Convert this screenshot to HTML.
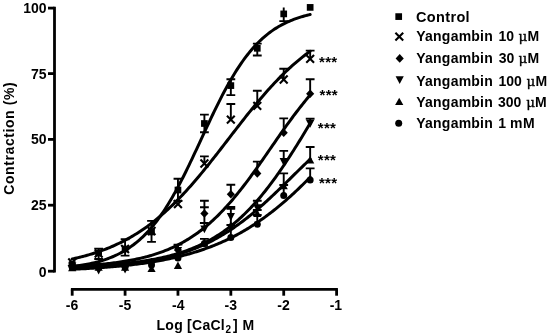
<!DOCTYPE html>
<html><head><meta charset="utf-8"><style>
html,body{margin:0;padding:0;background:#fff;}
body{width:550px;height:336px;overflow:hidden;}
svg{display:block;}
text{font-family:"Liberation Sans",Arial,sans-serif;font-weight:bold;font-size:14px;fill:#000;}
.st{font-size:15px;letter-spacing:0.3px;}
.mu{font-family:"DejaVu Serif",serif;font-weight:normal;font-size:13.5px;stroke:#000;stroke-width:0.35px;}
</style></head><body>
<svg width="550" height="336" viewBox="0 0 550 336">
<g fill="none" stroke="#000" stroke-width="2.8" stroke-linecap="butt"><path d="M54.5,6.8 L54.5,272.6"/><path d="M48.0,8.1 L54.5,8.1"/><path d="M48.0,73.6 L54.5,73.6"/><path d="M48.0,139.4 L54.5,139.4"/><path d="M48.0,205.2 L54.5,205.2"/><path d="M48.0,271.2 L54.5,271.2"/><path d="M70.9,289.4 L337.9,289.4"/><path d="M72.20,289.4 L72.20,295.7"/><path d="M125.08,289.4 L125.08,295.7"/><path d="M177.96,289.4 L177.96,295.7"/><path d="M230.84,289.4 L230.84,295.7"/><path d="M283.72,289.4 L283.72,295.7"/><path d="M336.60,289.4 L336.60,295.7"/></g>
<g><text x="46.6" y="12.7" text-anchor="end">100</text><text x="46.6" y="78.8" text-anchor="end">75</text><text x="46.6" y="144.4" text-anchor="end">50</text><text x="46.6" y="210.4" text-anchor="end">25</text><text x="46.6" y="276.5" text-anchor="end">0</text><text x="72.05" y="310.3" text-anchor="middle">-6</text><text x="124.95" y="310.3" text-anchor="middle">-5</text><text x="178.30" y="310.3" text-anchor="middle">-4</text><text x="230.85" y="310.3" text-anchor="middle">-3</text><text x="283.50" y="310.3" text-anchor="middle">-2</text><text x="335.90" y="310.3" text-anchor="middle">-1</text></g>
<text transform="translate(14.1,194.7) rotate(-90)" style="letter-spacing:0.58px">Contraction (%)</text>
<text x="156.5" y="330" style="letter-spacing:0.27px">Log [CaCl</text><text x="225.6" y="333.2" style="font-size:10px">2</text><text x="233" y="330">]</text><text x="242.4" y="330">M</text>
<g fill="none" stroke="#000" stroke-width="1.9" stroke-linecap="butt"><path d="M98.64,248.60 L98.64,253.00 M94.24,248.60 L103.04,248.60 M98.64,253.00 L98.64,259.00 M94.24,259.00 L103.04,259.00 M125.08,239.30 L125.08,249.00 M120.68,239.30 L129.48,239.30 M125.08,249.00 L125.08,255.60 M120.68,255.60 L129.48,255.60 M151.52,220.90 L151.52,232.00 M147.12,220.90 L155.92,220.90 M151.52,232.00 L151.52,241.90 M147.12,241.90 L155.92,241.90 M177.96,178.80 L177.96,190.00 M173.56,178.80 L182.36,178.80 M177.96,190.00 L177.96,201.00 M173.56,201.00 L182.36,201.00 M204.40,114.60 L204.40,123.50 M200.00,114.60 L208.80,114.60 M204.40,123.50 L204.40,132.30 M200.00,132.30 L208.80,132.30 M230.84,79.20 L230.84,85.60 M226.44,79.20 L235.24,79.20 M230.84,85.60 L230.84,95.10 M226.44,95.10 L235.24,95.10 M257.28,43.60 L257.28,48.30 M252.88,43.60 L261.68,43.60 M257.28,48.30 L257.28,55.50 M252.88,55.50 L261.68,55.50 M283.72,7.40 L283.72,13.90 M283.72,13.90 L283.72,21.10 M279.32,21.10 L288.12,21.10 M204.40,156.40 L204.40,163.50 M200.00,156.40 L208.80,156.40 M230.84,104.00 L230.84,119.60 M226.44,104.00 L235.24,104.00 M257.28,90.80 L257.28,105.80 M252.88,90.80 L261.68,90.80 M283.72,68.70 L283.72,79.50 M279.32,68.70 L288.12,68.70 M310.16,50.60 L310.16,58.80 M305.76,50.60 L314.56,50.60 M204.40,200.70 L204.40,213.50 M200.00,200.70 L208.80,200.70 M230.84,184.80 L230.84,194.30 M226.44,184.80 L235.24,184.80 M257.28,161.60 L257.28,173.40 M252.88,161.60 L261.68,161.60 M283.72,118.40 L283.72,132.70 M279.32,118.40 L288.12,118.40 M310.16,79.30 L310.16,93.70 M305.76,79.30 L314.56,79.30 M177.96,244.60 L177.96,251.00 M173.56,244.60 L182.36,244.60 M204.40,207.30 L204.40,229.40 M200.00,207.30 L208.80,207.30 M230.84,207.00 L230.84,217.00 M226.44,207.00 L235.24,207.00 M257.28,200.80 L257.28,208.20 M252.88,200.80 L261.68,200.80 M283.72,150.90 L283.72,162.00 M279.32,150.90 L288.12,150.90 M310.16,118.70 L310.16,123.80 M305.76,118.70 L314.56,118.70 M204.40,238.90 L204.40,243.00 M200.00,238.90 L208.80,238.90 M230.84,208.00 L230.84,225.00 M226.44,208.00 L235.24,208.00 M257.28,210.00 L257.28,213.20 M252.88,210.00 L261.68,210.00 M283.72,173.40 L283.72,185.50 M279.32,173.40 L288.12,173.40 M310.16,147.00 L310.16,159.80 M305.76,147.00 L314.56,147.00 M230.84,225.00 L230.84,237.60 M226.44,225.00 L235.24,225.00 M257.28,215.00 L257.28,224.20 M252.88,215.00 L261.68,215.00 M283.72,185.00 L283.72,195.40 M279.32,185.00 L288.12,185.00 M310.16,168.40 L310.16,180.00 M305.76,168.40 L314.56,168.40 M199.90,223.00 L208.70,223.00 M226.40,208.90 L235.20,208.90"/></g>
<g fill="none" stroke="#000" stroke-width="3" stroke-linecap="round"><path d="M72.20,266.52 L73.70,266.34 L75.19,266.15 L76.69,265.94 L78.19,265.73 L79.68,265.51 L81.18,265.27 L82.68,265.03 L84.17,264.77 L85.67,264.50 L87.17,264.22 L88.66,263.92 L90.16,263.61 L91.66,263.29 L93.15,262.95 L94.65,262.59 L96.15,262.22 L97.64,261.83 L99.14,261.42 L100.64,260.99 L102.13,260.54 L103.63,260.07 L105.13,259.58 L106.62,259.06 L108.12,258.53 L109.62,257.96 L111.11,257.37 L112.61,256.76 L114.10,256.12 L115.60,255.44 L117.10,254.74 L118.59,254.01 L120.09,253.24 L121.59,252.45 L123.08,251.61 L124.58,250.74 L126.08,249.84 L127.57,248.89 L129.07,247.91 L130.57,246.88 L132.06,245.81 L133.56,244.70 L135.06,243.54 L136.55,242.34 L138.05,241.09 L139.55,239.79 L141.04,238.44 L142.54,237.04 L144.04,235.59 L145.53,234.08 L147.03,232.52 L148.53,230.90 L150.02,229.23 L151.52,227.50 L153.02,225.71 L154.51,223.86 L156.01,221.95 L157.51,219.98 L159.00,217.95 L160.50,215.86 L162.00,213.71 L163.49,211.49 L164.99,209.22 L166.49,206.89 L167.98,204.49 L169.48,202.04 L170.98,199.52 L172.47,196.95 L173.97,194.32 L175.47,191.64 L176.96,188.90 L178.46,186.11 L179.96,183.28 L181.45,180.39 L182.95,177.46 L184.45,174.48 L185.94,171.47 L187.44,168.42 L188.94,165.33 L190.43,162.22 L191.93,159.08 L193.42,155.91 L194.92,152.72 L196.42,149.52 L197.91,146.30 L199.41,143.07 L200.91,139.84 L202.40,136.61 L203.90,133.38 L205.40,130.16 L206.89,126.94 L208.39,123.75 L209.89,120.57 L211.38,117.41 L212.88,114.27 L214.38,111.17 L215.87,108.09 L217.37,105.06 L218.87,102.06 L220.36,99.10 L221.86,96.18 L223.36,93.31 L224.85,90.49 L226.35,87.72 L227.85,85.00 L229.34,82.34 L230.84,79.73 L232.34,77.18 L233.83,74.69 L235.33,72.26 L236.83,69.88 L238.32,67.57 L239.82,65.32 L241.32,63.12 L242.81,60.99 L244.31,58.93 L245.81,56.92 L247.30,54.97 L248.80,53.08 L250.30,51.25 L251.79,49.49 L253.29,47.78 L254.79,46.12 L256.28,44.52 L257.78,42.98 L259.28,41.50 L260.77,40.06 L262.27,38.68 L263.77,37.35 L265.26,36.07 L266.76,34.83 L268.26,33.65 L269.75,32.51 L271.25,31.41 L272.74,30.36 L274.24,29.35 L275.74,28.38 L277.23,27.44 L278.73,26.55 L280.23,25.70 L281.72,24.87 L283.22,24.09 L284.72,23.33 L286.21,22.61 L287.71,21.92 L289.21,21.26 L290.70,20.63 L292.20,20.02 L293.70,19.44 L295.19,18.89 L296.69,18.36 L298.19,17.85 L299.68,17.37 L301.18,16.91 L302.68,16.47 L304.17,16.04 L305.67,15.64 L307.17,15.26 L308.66,14.89 L310.16,14.54"/><path d="M72.20,258.99 L73.70,258.67 L75.19,258.33 L76.69,257.98 L78.19,257.62 L79.68,257.26 L81.18,256.88 L82.68,256.49 L84.17,256.10 L85.67,255.69 L87.17,255.27 L88.66,254.84 L90.16,254.40 L91.66,253.95 L93.15,253.48 L94.65,253.01 L96.15,252.52 L97.64,252.02 L99.14,251.50 L100.64,250.98 L102.13,250.44 L103.63,249.88 L105.13,249.31 L106.62,248.73 L108.12,248.13 L109.62,247.52 L111.11,246.89 L112.61,246.25 L114.10,245.59 L115.60,244.92 L117.10,244.23 L118.59,243.52 L120.09,242.80 L121.59,242.06 L123.08,241.30 L124.58,240.52 L126.08,239.73 L127.57,238.92 L129.07,238.09 L130.57,237.24 L132.06,236.37 L133.56,235.48 L135.06,234.58 L136.55,233.65 L138.05,232.70 L139.55,231.74 L141.04,230.75 L142.54,229.74 L144.04,228.71 L145.53,227.67 L147.03,226.60 L148.53,225.50 L150.02,224.39 L151.52,223.26 L153.02,222.10 L154.51,220.92 L156.01,219.72 L157.51,218.50 L159.00,217.26 L160.50,215.99 L162.00,214.70 L163.49,213.39 L164.99,212.06 L166.49,210.71 L167.98,209.33 L169.48,207.93 L170.98,206.51 L172.47,205.07 L173.97,203.61 L175.47,202.12 L176.96,200.62 L178.46,199.09 L179.96,197.54 L181.45,195.97 L182.95,194.39 L184.45,192.78 L185.94,191.15 L187.44,189.50 L188.94,187.84 L190.43,186.15 L191.93,184.45 L193.42,182.73 L194.92,181.00 L196.42,179.24 L197.91,177.47 L199.41,175.69 L200.91,173.89 L202.40,172.08 L203.90,170.25 L205.40,168.41 L206.89,166.56 L208.39,164.70 L209.89,162.82 L211.38,160.94 L212.88,159.05 L214.38,157.14 L215.87,155.23 L217.37,153.32 L218.87,151.39 L220.36,149.47 L221.86,147.53 L223.36,145.60 L224.85,143.66 L226.35,141.72 L227.85,139.78 L229.34,137.83 L230.84,135.89 L232.34,133.95 L233.83,132.01 L235.33,130.08 L236.83,128.15 L238.32,126.22 L239.82,124.30 L241.32,122.38 L242.81,120.48 L244.31,118.58 L245.81,116.68 L247.30,114.80 L248.80,112.93 L250.30,111.07 L251.79,109.22 L253.29,107.39 L254.79,105.56 L256.28,103.75 L257.78,101.96 L259.28,100.18 L260.77,98.41 L262.27,96.67 L263.77,94.93 L265.26,93.22 L266.76,91.52 L268.26,89.84 L269.75,88.18 L271.25,86.54 L272.74,84.92 L274.24,83.31 L275.74,81.73 L277.23,80.17 L278.73,78.62 L280.23,77.10 L281.72,75.60 L283.22,74.12 L284.72,72.67 L286.21,71.23 L287.71,69.82 L289.21,68.42 L290.70,67.05 L292.20,65.70 L293.70,64.38 L295.19,63.07 L296.69,61.79 L298.19,60.53 L299.68,59.29 L301.18,58.08 L302.68,56.88 L304.17,55.71 L305.67,54.56 L307.17,53.43 L308.66,52.32 L310.16,51.24"/><path d="M72.20,266.29 L73.70,266.21 L75.19,266.14 L76.69,266.06 L78.19,265.98 L79.68,265.89 L81.18,265.80 L82.68,265.71 L84.17,265.62 L85.67,265.52 L87.17,265.42 L88.66,265.32 L90.16,265.21 L91.66,265.10 L93.15,264.98 L94.65,264.86 L96.15,264.73 L97.64,264.61 L99.14,264.47 L100.64,264.33 L102.13,264.19 L103.63,264.04 L105.13,263.89 L106.62,263.73 L108.12,263.57 L109.62,263.39 L111.11,263.22 L112.61,263.04 L114.10,262.85 L115.60,262.65 L117.10,262.45 L118.59,262.24 L120.09,262.02 L121.59,261.80 L123.08,261.57 L124.58,261.33 L126.08,261.08 L127.57,260.83 L129.07,260.56 L130.57,260.29 L132.06,260.00 L133.56,259.71 L135.06,259.41 L136.55,259.09 L138.05,258.77 L139.55,258.43 L141.04,258.09 L142.54,257.73 L144.04,257.36 L145.53,256.98 L147.03,256.58 L148.53,256.18 L150.02,255.76 L151.52,255.32 L153.02,254.87 L154.51,254.41 L156.01,253.93 L157.51,253.44 L159.00,252.93 L160.50,252.40 L162.00,251.86 L163.49,251.30 L164.99,250.72 L166.49,250.13 L167.98,249.52 L169.48,248.88 L170.98,248.23 L172.47,247.56 L173.97,246.87 L175.47,246.16 L176.96,245.42 L178.46,244.67 L179.96,243.89 L181.45,243.09 L182.95,242.27 L184.45,241.42 L185.94,240.55 L187.44,239.66 L188.94,238.74 L190.43,237.79 L191.93,236.82 L193.42,235.83 L194.92,234.80 L196.42,233.75 L197.91,232.68 L199.41,231.57 L200.91,230.44 L202.40,229.28 L203.90,228.09 L205.40,226.87 L206.89,225.62 L208.39,224.35 L209.89,223.04 L211.38,221.71 L212.88,220.34 L214.38,218.95 L215.87,217.52 L217.37,216.07 L218.87,214.58 L220.36,213.07 L221.86,211.53 L223.36,209.95 L224.85,208.35 L226.35,206.72 L227.85,205.06 L229.34,203.37 L230.84,201.65 L232.34,199.90 L233.83,198.13 L235.33,196.33 L236.83,194.51 L238.32,192.66 L239.82,190.78 L241.32,188.88 L242.81,186.96 L244.31,185.01 L245.81,183.04 L247.30,181.06 L248.80,179.05 L250.30,177.02 L251.79,174.98 L253.29,172.92 L254.79,170.84 L256.28,168.75 L257.78,166.65 L259.28,164.53 L260.77,162.41 L262.27,160.27 L263.77,158.13 L265.26,155.98 L266.76,153.83 L268.26,151.67 L269.75,149.51 L271.25,147.35 L272.74,145.19 L274.24,143.03 L275.74,140.87 L277.23,138.72 L278.73,136.57 L280.23,134.44 L281.72,132.31 L283.22,130.19 L284.72,128.08 L286.21,125.98 L287.71,123.90 L289.21,121.83 L290.70,119.78 L292.20,117.75 L293.70,115.73 L295.19,113.74 L296.69,111.76 L298.19,109.81 L299.68,107.87 L301.18,105.96 L302.68,104.08 L304.17,102.22 L305.67,100.38 L307.17,98.57 L308.66,96.79 L310.16,95.03"/><path d="M72.20,266.63 L73.70,266.58 L75.19,266.53 L76.69,266.47 L78.19,266.42 L79.68,266.36 L81.18,266.30 L82.68,266.24 L84.17,266.18 L85.67,266.11 L87.17,266.04 L88.66,265.97 L90.16,265.90 L91.66,265.83 L93.15,265.75 L94.65,265.67 L96.15,265.59 L97.64,265.50 L99.14,265.42 L100.64,265.33 L102.13,265.23 L103.63,265.14 L105.13,265.04 L106.62,264.93 L108.12,264.83 L109.62,264.72 L111.11,264.61 L112.61,264.49 L114.10,264.37 L115.60,264.25 L117.10,264.12 L118.59,263.99 L120.09,263.85 L121.59,263.71 L123.08,263.56 L124.58,263.41 L126.08,263.26 L127.57,263.10 L129.07,262.93 L130.57,262.76 L132.06,262.59 L133.56,262.41 L135.06,262.22 L136.55,262.03 L138.05,261.83 L139.55,261.62 L141.04,261.41 L142.54,261.19 L144.04,260.97 L145.53,260.73 L147.03,260.49 L148.53,260.25 L150.02,259.99 L151.52,259.73 L153.02,259.46 L154.51,259.18 L156.01,258.89 L157.51,258.59 L159.00,258.28 L160.50,257.97 L162.00,257.64 L163.49,257.30 L164.99,256.96 L166.49,256.60 L167.98,256.23 L169.48,255.85 L170.98,255.46 L172.47,255.06 L173.97,254.65 L175.47,254.22 L176.96,253.78 L178.46,253.32 L179.96,252.86 L181.45,252.38 L182.95,251.88 L184.45,251.37 L185.94,250.85 L187.44,250.31 L188.94,249.75 L190.43,249.18 L191.93,248.59 L193.42,247.99 L194.92,247.36 L196.42,246.72 L197.91,246.06 L199.41,245.39 L200.91,244.69 L202.40,243.97 L203.90,243.24 L205.40,242.48 L206.89,241.70 L208.39,240.90 L209.89,240.08 L211.38,239.24 L212.88,238.38 L214.38,237.49 L215.87,236.58 L217.37,235.64 L218.87,234.68 L220.36,233.70 L221.86,232.69 L223.36,231.66 L224.85,230.59 L226.35,229.51 L227.85,228.39 L229.34,227.25 L230.84,226.08 L232.34,224.89 L233.83,223.66 L235.33,222.41 L236.83,221.12 L238.32,219.81 L239.82,218.47 L241.32,217.10 L242.81,215.70 L244.31,214.26 L245.81,212.80 L247.30,211.31 L248.80,209.78 L250.30,208.23 L251.79,206.64 L253.29,205.02 L254.79,203.37 L256.28,201.69 L257.78,199.98 L259.28,198.23 L260.77,196.46 L262.27,194.65 L263.77,192.82 L265.26,190.95 L266.76,189.05 L268.26,187.12 L269.75,185.16 L271.25,183.18 L272.74,181.16 L274.24,179.11 L275.74,177.04 L277.23,174.94 L278.73,172.81 L280.23,170.66 L281.72,168.48 L283.22,166.27 L284.72,164.04 L286.21,161.79 L287.71,159.51 L289.21,157.21 L290.70,154.90 L292.20,152.56 L293.70,150.20 L295.19,147.82 L296.69,145.43 L298.19,143.02 L299.68,140.60 L301.18,138.17 L302.68,135.72 L304.17,133.26 L305.67,130.79 L307.17,128.31 L308.66,125.83 L310.16,123.34"/><path d="M72.20,267.89 L73.70,267.84 L75.19,267.78 L76.69,267.72 L78.19,267.66 L79.68,267.59 L81.18,267.53 L82.68,267.46 L84.17,267.39 L85.67,267.32 L87.17,267.24 L88.66,267.17 L90.16,267.09 L91.66,267.01 L93.15,266.92 L94.65,266.83 L96.15,266.75 L97.64,266.65 L99.14,266.56 L100.64,266.46 L102.13,266.36 L103.63,266.25 L105.13,266.15 L106.62,266.04 L108.12,265.92 L109.62,265.80 L111.11,265.68 L112.61,265.56 L114.10,265.43 L115.60,265.30 L117.10,265.16 L118.59,265.02 L120.09,264.87 L121.59,264.72 L123.08,264.57 L124.58,264.41 L126.08,264.25 L127.57,264.08 L129.07,263.90 L130.57,263.72 L132.06,263.54 L133.56,263.35 L135.06,263.15 L136.55,262.95 L138.05,262.74 L139.55,262.53 L141.04,262.31 L142.54,262.09 L144.04,261.85 L145.53,261.61 L147.03,261.37 L148.53,261.11 L150.02,260.85 L151.52,260.58 L153.02,260.30 L154.51,260.02 L156.01,259.73 L157.51,259.42 L159.00,259.11 L160.50,258.80 L162.00,258.47 L163.49,258.13 L164.99,257.78 L166.49,257.43 L167.98,257.06 L169.48,256.69 L170.98,256.30 L172.47,255.90 L173.97,255.49 L175.47,255.08 L176.96,254.64 L178.46,254.20 L179.96,253.75 L181.45,253.28 L182.95,252.81 L184.45,252.32 L185.94,251.81 L187.44,251.30 L188.94,250.77 L190.43,250.22 L191.93,249.67 L193.42,249.10 L194.92,248.51 L196.42,247.91 L197.91,247.30 L199.41,246.67 L200.91,246.02 L202.40,245.36 L203.90,244.69 L205.40,244.00 L206.89,243.29 L208.39,242.57 L209.89,241.83 L211.38,241.07 L212.88,240.30 L214.38,239.51 L215.87,238.71 L217.37,237.88 L218.87,237.04 L220.36,236.18 L221.86,235.31 L223.36,234.41 L224.85,233.50 L226.35,232.57 L227.85,231.63 L229.34,230.66 L230.84,229.68 L232.34,228.68 L233.83,227.66 L235.33,226.62 L236.83,225.57 L238.32,224.50 L239.82,223.41 L241.32,222.30 L242.81,221.18 L244.31,220.04 L245.81,218.88 L247.30,217.70 L248.80,216.51 L250.30,215.31 L251.79,214.08 L253.29,212.84 L254.79,211.59 L256.28,210.32 L257.78,209.03 L259.28,207.74 L260.77,206.42 L262.27,205.10 L263.77,203.76 L265.26,202.41 L266.76,201.05 L268.26,199.67 L269.75,198.29 L271.25,196.89 L272.74,195.49 L274.24,194.07 L275.74,192.65 L277.23,191.22 L278.73,189.78 L280.23,188.34 L281.72,186.89 L283.22,185.43 L284.72,183.97 L286.21,182.51 L287.71,181.04 L289.21,179.57 L290.70,178.10 L292.20,176.63 L293.70,175.16 L295.19,173.69 L296.69,172.22 L298.19,170.75 L299.68,169.29 L301.18,167.83 L302.68,166.37 L304.17,164.92 L305.67,163.48 L307.17,162.04 L308.66,160.61 L310.16,159.18"/><path d="M72.20,269.31 L73.70,269.24 L75.19,269.17 L76.69,269.10 L78.19,269.03 L79.68,268.95 L81.18,268.87 L82.68,268.79 L84.17,268.71 L85.67,268.63 L87.17,268.55 L88.66,268.46 L90.16,268.37 L91.66,268.28 L93.15,268.18 L94.65,268.09 L96.15,267.99 L97.64,267.89 L99.14,267.78 L100.64,267.68 L102.13,267.57 L103.63,267.46 L105.13,267.35 L106.62,267.23 L108.12,267.11 L109.62,266.99 L111.11,266.86 L112.61,266.73 L114.10,266.60 L115.60,266.47 L117.10,266.33 L118.59,266.19 L120.09,266.04 L121.59,265.89 L123.08,265.74 L124.58,265.58 L126.08,265.43 L127.57,265.26 L129.07,265.09 L130.57,264.92 L132.06,264.75 L133.56,264.57 L135.06,264.38 L136.55,264.20 L138.05,264.00 L139.55,263.81 L141.04,263.60 L142.54,263.40 L144.04,263.18 L145.53,262.97 L147.03,262.75 L148.53,262.52 L150.02,262.29 L151.52,262.05 L153.02,261.80 L154.51,261.56 L156.01,261.30 L157.51,261.04 L159.00,260.77 L160.50,260.50 L162.00,260.22 L163.49,259.93 L164.99,259.64 L166.49,259.34 L167.98,259.03 L169.48,258.72 L170.98,258.40 L172.47,258.07 L173.97,257.74 L175.47,257.40 L176.96,257.04 L178.46,256.69 L179.96,256.32 L181.45,255.95 L182.95,255.56 L184.45,255.17 L185.94,254.77 L187.44,254.36 L188.94,253.94 L190.43,253.52 L191.93,253.08 L193.42,252.64 L194.92,252.18 L196.42,251.71 L197.91,251.24 L199.41,250.75 L200.91,250.26 L202.40,249.75 L203.90,249.24 L205.40,248.71 L206.89,248.17 L208.39,247.62 L209.89,247.06 L211.38,246.49 L212.88,245.90 L214.38,245.31 L215.87,244.70 L217.37,244.08 L218.87,243.44 L220.36,242.80 L221.86,242.14 L223.36,241.47 L224.85,240.79 L226.35,240.09 L227.85,239.38 L229.34,238.65 L230.84,237.92 L232.34,237.17 L233.83,236.40 L235.33,235.62 L236.83,234.83 L238.32,234.02 L239.82,233.20 L241.32,232.36 L242.81,231.51 L244.31,230.64 L245.81,229.76 L247.30,228.86 L248.80,227.95 L250.30,227.02 L251.79,226.07 L253.29,225.12 L254.79,224.14 L256.28,223.15 L257.78,222.14 L259.28,221.12 L260.77,220.09 L262.27,219.03 L263.77,217.96 L265.26,216.88 L266.76,215.78 L268.26,214.66 L269.75,213.53 L271.25,212.38 L272.74,211.21 L274.24,210.03 L275.74,208.84 L277.23,207.62 L278.73,206.40 L280.23,205.15 L281.72,203.90 L283.22,202.62 L284.72,201.33 L286.21,200.03 L287.71,198.71 L289.21,197.38 L290.70,196.03 L292.20,194.67 L293.70,193.29 L295.19,191.90 L296.69,190.49 L298.19,189.08 L299.68,187.65 L301.18,186.20 L302.68,184.75 L304.17,183.28 L305.67,181.80 L307.17,180.31 L308.66,178.80 L310.16,177.29"/></g>
<g fill="#000"><rect x="68.85" y="261.15" width="6.70" height="6.70"/><rect x="95.29" y="249.65" width="6.70" height="6.70"/><rect x="121.73" y="245.65" width="6.70" height="6.70"/><rect x="148.17" y="228.65" width="6.70" height="6.70"/><rect x="174.61" y="186.65" width="6.70" height="6.70"/><rect x="201.05" y="120.15" width="6.70" height="6.70"/><rect x="227.49" y="82.25" width="6.70" height="6.70"/><rect x="253.93" y="44.95" width="6.70" height="6.70"/><rect x="280.37" y="10.55" width="6.70" height="6.70"/><rect x="306.81" y="4.05" width="6.70" height="6.70"/><path d="M68.30,258.60 L76.10,266.40 M76.10,258.60 L68.30,266.40" fill="none" stroke="#000" stroke-width="2.1"/><path d="M94.74,249.60 L102.54,257.40 M102.54,249.60 L94.74,257.40" fill="none" stroke="#000" stroke-width="2.1"/><path d="M121.18,245.10 L128.98,252.90 M128.98,245.10 L121.18,252.90" fill="none" stroke="#000" stroke-width="2.1"/><path d="M147.62,227.10 L155.42,234.90 M155.42,227.10 L147.62,234.90" fill="none" stroke="#000" stroke-width="2.1"/><path d="M174.06,200.10 L181.86,207.90 M181.86,200.10 L174.06,207.90" fill="none" stroke="#000" stroke-width="2.1"/><path d="M200.50,159.60 L208.30,167.40 M208.30,159.60 L200.50,167.40" fill="none" stroke="#000" stroke-width="2.1"/><path d="M226.94,115.70 L234.74,123.50 M234.74,115.70 L226.94,123.50" fill="none" stroke="#000" stroke-width="2.1"/><path d="M253.38,101.90 L261.18,109.70 M261.18,101.90 L253.38,109.70" fill="none" stroke="#000" stroke-width="2.1"/><path d="M279.82,75.60 L287.62,83.40 M287.62,75.60 L279.82,83.40" fill="none" stroke="#000" stroke-width="2.1"/><path d="M306.26,54.90 L314.06,62.70 M314.06,54.90 L306.26,62.70" fill="none" stroke="#000" stroke-width="2.1"/><path d="M72.20,261.20 L76.28,265.50 L72.20,269.80 L68.12,265.50Z"/><path d="M98.64,260.70 L102.72,265.00 L98.64,269.30 L94.56,265.00Z"/><path d="M125.08,259.70 L129.17,264.00 L125.08,268.30 L121.00,264.00Z"/><path d="M151.52,257.70 L155.61,262.00 L151.52,266.30 L147.44,262.00Z"/><path d="M177.96,245.70 L182.05,250.00 L177.96,254.30 L173.88,250.00Z"/><path d="M204.40,209.20 L208.49,213.50 L204.40,217.80 L200.32,213.50Z"/><path d="M230.84,190.00 L234.93,194.30 L230.84,198.60 L226.76,194.30Z"/><path d="M257.28,169.10 L261.37,173.40 L257.28,177.70 L253.20,173.40Z"/><path d="M283.72,128.40 L287.81,132.70 L283.72,137.00 L279.64,132.70Z"/><path d="M310.16,89.40 L314.25,93.70 L310.16,98.00 L306.08,93.70Z"/><path d="M68.10,262.60 L76.30,262.60 L72.20,270.40Z"/><path d="M94.54,266.80 L102.74,266.80 L98.64,274.60Z"/><path d="M120.98,265.80 L129.18,265.80 L125.08,273.60Z"/><path d="M147.42,261.10 L155.62,261.10 L151.52,268.90Z"/><path d="M173.86,247.10 L182.06,247.10 L177.96,254.90Z"/><path d="M200.30,225.50 L208.50,225.50 L204.40,233.30Z"/><path d="M226.74,213.10 L234.94,213.10 L230.84,220.90Z"/><path d="M253.18,204.30 L261.38,204.30 L257.28,212.10Z"/><path d="M279.62,158.10 L287.82,158.10 L283.72,165.90Z"/><path d="M306.06,119.90 L314.26,119.90 L310.16,127.70Z"/><path d="M68.10,271.20 L76.30,271.20 L72.20,263.80Z"/><path d="M94.54,270.70 L102.74,270.70 L98.64,263.30Z"/><path d="M120.98,270.70 L129.18,270.70 L125.08,263.30Z"/><path d="M147.42,272.10 L155.62,272.10 L151.52,264.70Z"/><path d="M173.86,269.00 L182.06,269.00 L177.96,261.60Z"/><path d="M200.30,246.70 L208.50,246.70 L204.40,239.30Z"/><path d="M226.74,228.70 L234.94,228.70 L230.84,221.30Z"/><path d="M253.18,216.90 L261.38,216.90 L257.28,209.50Z"/><path d="M279.62,189.20 L287.82,189.20 L283.72,181.80Z"/><path d="M306.06,163.50 L314.26,163.50 L310.16,156.10Z"/><circle cx="72.20" cy="267.30" r="3.50"/><circle cx="98.64" cy="267.00" r="3.50"/><circle cx="125.08" cy="267.00" r="3.50"/><circle cx="151.52" cy="265.00" r="3.50"/><circle cx="177.96" cy="258.00" r="3.50"/><circle cx="204.40" cy="243.50" r="3.50"/><circle cx="230.84" cy="237.60" r="3.50"/><circle cx="257.28" cy="224.20" r="3.50"/><circle cx="283.72" cy="195.40" r="3.50"/><circle cx="310.16" cy="180.00" r="3.50"/></g>
<text x="319.00" y="66.78" class="st">***</text><text x="319.50" y="100.08" class="st">***</text><text x="317.80" y="132.57" class="st">***</text><text x="317.80" y="165.47" class="st">***</text><text x="318.90" y="187.68" class="st">***</text>
<g fill="#000"><rect x="395.35" y="13.25" width="6.70" height="6.70"/><path d="M395.40,32.70 L403.20,40.50 M403.20,32.70 L395.40,40.50" fill="none" stroke="#000" stroke-width="2.1"/><path d="M399.70,54.10 L403.78,58.40 L399.70,62.70 L395.62,58.40Z"/><path d="M395.60,76.20 L403.80,76.20 L399.70,84.00Z"/><path d="M395.10,105.10 L403.30,105.10 L399.20,97.70Z"/><circle cx="398.70" cy="123.20" r="3.50"/><text x="416.05" y="21.75" style="font-size:14.5px;letter-spacing:0.34px">Control</text><text x="416.3" y="41.4" style="letter-spacing:0.22px">Yangambin</text><text x="498.4" y="41.4">10</text><text x="518.6" y="41.4" class="mu">μ</text><text x="527.4" y="41.4">M</text><text x="416.3" y="63.3" style="letter-spacing:0.22px">Yangambin</text><text x="498.7" y="63.3">30</text><text x="518.6" y="63.3" class="mu">μ</text><text x="527.4" y="63.3">M</text><text x="416.3" y="85.8" style="letter-spacing:0.22px">Yangambin</text><text x="498.5" y="85.8">100</text><text x="526.4" y="85.8" class="mu">μ</text><text x="535.4" y="85.8">M</text><text x="416.3" y="106.6" style="letter-spacing:0.22px">Yangambin</text><text x="497.9" y="106.6">300</text><text x="526.2" y="106.6" class="mu">μ</text><text x="534.9" y="106.6">M</text><text x="416.3" y="128.2" style="letter-spacing:0.22px">Yangambin</text><text x="498.2" y="128.2">1</text><text x="509.9" y="128.2" style="letter-spacing:0.75px">mM</text></g>
</svg>
</body></html>
